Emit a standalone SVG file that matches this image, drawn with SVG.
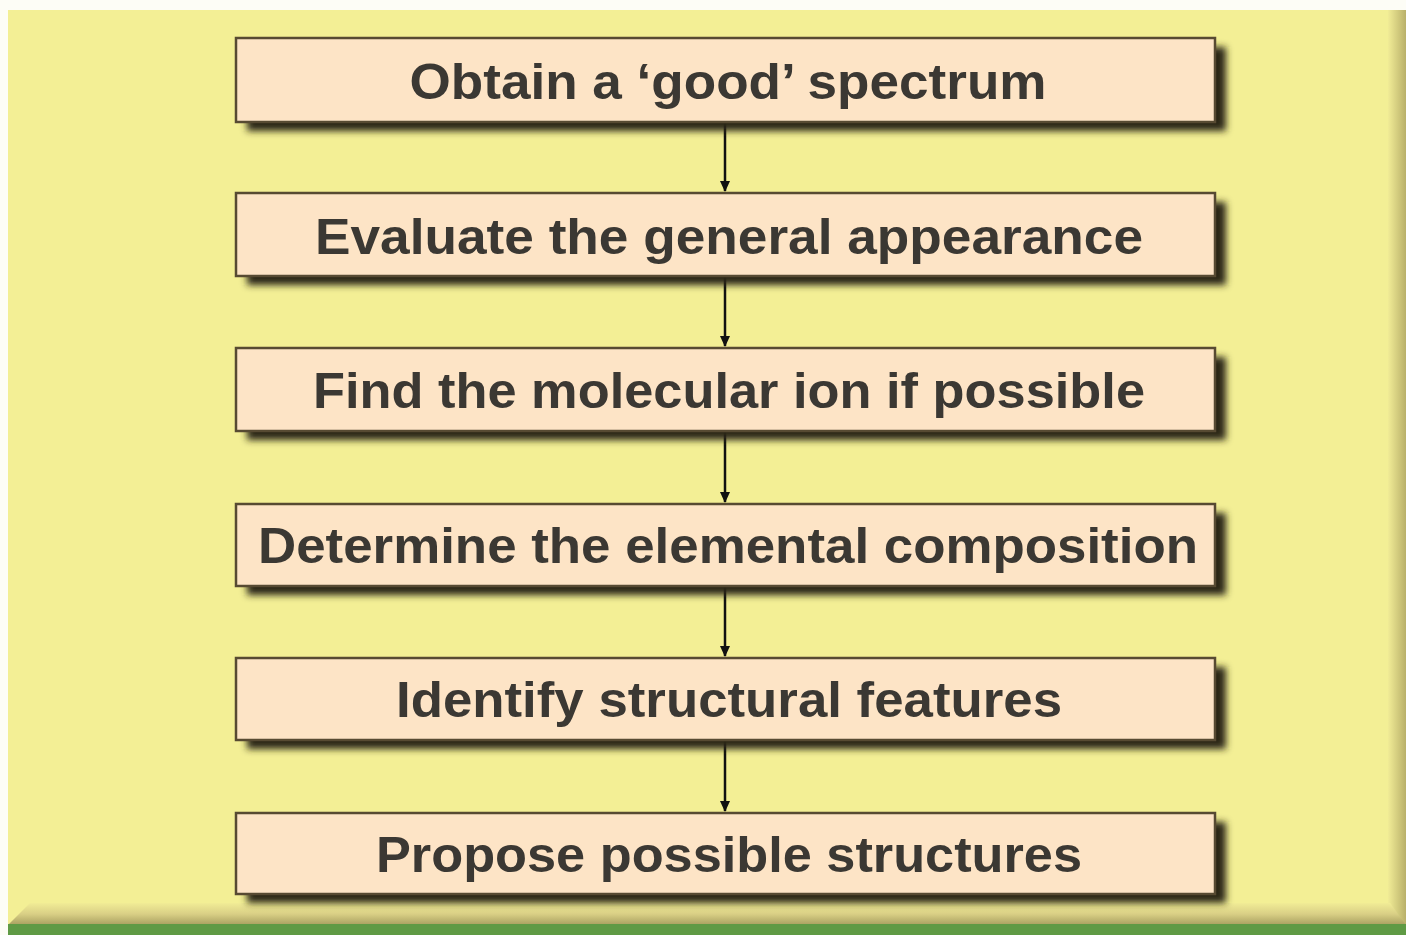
<svg xmlns="http://www.w3.org/2000/svg" width="1406" height="935" viewBox="0 0 1406 935">
<defs>
<style>
.box{fill:#fde4c6;stroke:#574a32;stroke-width:2.5}
.shadow{fill:#2a2616;filter:url(#blur)}
.lbl{font-family:"Liberation Sans",Arial,sans-serif;font-weight:bold;font-size:50px;fill:#3b3833;text-anchor:middle}
.conn{stroke:#111;stroke-width:2.5;fill:none;marker-end:url(#arr)}
</style>
<filter id="blur" x="-10%" y="-30%" width="120%" height="160%"><feGaussianBlur stdDeviation="3.5"/></filter>
<marker id="arr" markerWidth="12" markerHeight="12" refX="10" refY="5" orient="auto" markerUnits="userSpaceOnUse"><path d="M0,0 L11,5 L0,10 z" fill="#111"/></marker>
<linearGradient id="bottomBevel" x1="0" y1="0" x2="0" y2="1">
<stop offset="0" stop-color="#f1ec96"/>
<stop offset="0.5" stop-color="#d9cf85"/>
<stop offset="1" stop-color="#a8a060"/>
</linearGradient>
<linearGradient id="rightBevel" x1="0" y1="0" x2="1" y2="0">
<stop offset="0" stop-color="#f1ec96"/>
<stop offset="1" stop-color="#b9b06a"/>
</linearGradient>
</defs>
<rect x="0" y="0" width="1406" height="935" fill="#fdfdf6"/>
<rect x="8" y="10" width="1398" height="925" fill="#f3ef95"/>
<rect x="1388" y="10" width="18" height="915" fill="url(#rightBevel)"/>
<polygon points="8,925 30,903 1390,903 1406,925" fill="url(#bottomBevel)"/>
<rect x="8" y="924" width="1398" height="11" fill="#5f9a45"/>
<g id="connectors">
<line class="conn" x1="725" y1="123" x2="725" y2="191"/>
<line class="conn" x1="725" y1="277" x2="725" y2="346"/>
<line class="conn" x1="725" y1="432" x2="725" y2="502"/>
<line class="conn" x1="725" y1="587" x2="725" y2="656"/>
<line class="conn" x1="725" y1="741" x2="725" y2="811"/>
</g>
<g id="n1">
<rect class="shadow" x="247" y="47" width="979" height="84"/>
<rect class="box" x="236" y="38" width="979" height="84"/>
<text class="lbl" x="728" y="99" textLength="637" lengthAdjust="spacingAndGlyphs">Obtain a ‘good’ spectrum</text>
</g>
<g id="n2">
<rect class="shadow" x="247" y="202" width="979" height="83"/>
<rect class="box" x="236" y="193" width="979" height="83"/>
<text class="lbl" x="729" y="254" textLength="828" lengthAdjust="spacingAndGlyphs">Evaluate the general appearance</text>
</g>
<g id="n3">
<rect class="shadow" x="247" y="357" width="979" height="83"/>
<rect class="box" x="236" y="348" width="979" height="83"/>
<text class="lbl" x="729" y="408" textLength="832" lengthAdjust="spacingAndGlyphs">Find the molecular ion if possible</text>
</g>
<g id="n4">
<rect class="shadow" x="247" y="513" width="979" height="82"/>
<rect class="box" x="236" y="504" width="979" height="82"/>
<text class="lbl" x="728" y="563" textLength="940" lengthAdjust="spacingAndGlyphs">Determine the elemental composition</text>
</g>
<g id="n5">
<rect class="shadow" x="247" y="667" width="979" height="82"/>
<rect class="box" x="236" y="658" width="979" height="82"/>
<text class="lbl" x="729" y="717" textLength="666" lengthAdjust="spacingAndGlyphs">Identify structural features</text>
</g>
<g id="n6">
<rect class="shadow" x="247" y="822" width="979" height="81"/>
<rect class="box" x="236" y="813" width="979" height="81"/>
<text class="lbl" x="729" y="872" textLength="706" lengthAdjust="spacingAndGlyphs">Propose possible structures</text>
</g>
</svg>
